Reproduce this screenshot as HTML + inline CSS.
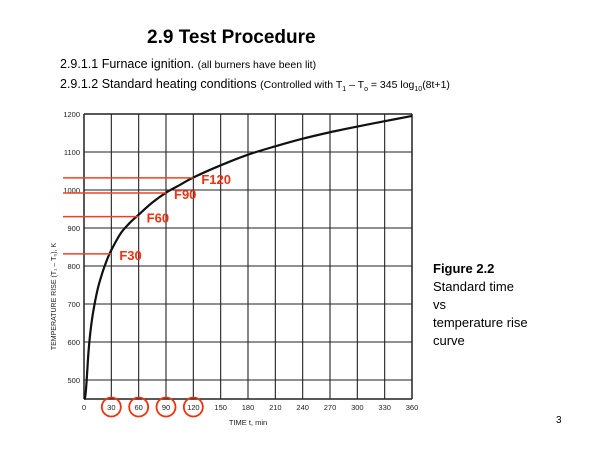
<!DOCTYPE html>
<html><head><meta charset="utf-8"><style>
body{margin:0;width:600px;height:450px;background:#fff;overflow:hidden;font-family:"Liberation Sans",sans-serif;}
svg{position:absolute;left:0;top:0}
</style></head><body>
<svg width="600" height="450" xmlns="http://www.w3.org/2000/svg" font-family="Liberation Sans, sans-serif">
<text x="147" y="43" font-size="19" font-weight="bold">2.9 Test Procedure</text>
<text x="60" y="68" font-size="12.5">2.9.1.1 Furnace ignition. <tspan font-size="10.5">(all burners have been lit)</tspan></text>
<text x="60" y="88" font-size="12.5">2.9.1.2 Standard heating conditions <tspan font-size="10.5">(Controlled with T</tspan><tspan font-size="7" dy="3">1</tspan><tspan font-size="10.5" dy="-3"> – T</tspan><tspan font-size="7" dy="3">o</tspan><tspan font-size="10.5" dy="-3"> = 345 log</tspan><tspan font-size="7" dy="3">10</tspan><tspan font-size="10.5" dy="-3">(8t+1)</tspan></text>
<g id="chart"></g>
<text x="433" y="273" font-size="13" font-weight="bold">Figure 2.2</text>
<text x="433" y="291" font-size="13">Standard time</text>
<text x="433" y="309" font-size="13">vs</text>
<text x="433" y="327" font-size="13">temperature rise</text>
<text x="433" y="345" font-size="13">curve</text>
<text x="556" y="423" font-size="10">3</text>
</svg>
<script>
const xTicks=[0,30,60,90,120,150,180,210,240,270,300,330,360];
const yTicks=[500,600,700,800,900,1000,1100,1200];
const curveT=[0,1,2,3,5,7,10,15,20,25,30,40,50,60,75,90,105,120,150,180,210,240,270,300,330,360];
const curveV=[450,452,470,502,576,626,678,739,781,815,842,885,913,935,967,993,1013,1033,1065,1093,1115,1135,1152,1167,1181,1195];
const fLabels=['F30','F60','F90','F120'];
const fTimes=[30,60,90,120];
const fValues=[832,930,992,1032];
const circled=[30,60,90,120];
const NS='http://www.w3.org/2000/svg';
const g=document.getElementById('chart');
const L=84,R=412,T=114,B=399;
const xs=t=>L+(t/360)*(R-L);
const ys=v=>B-(v-450)/750*(B-T);
function mk(tag,attrs){const e=document.createElementNS(NS,tag);for(const k in attrs)e.setAttribute(k,attrs[k]);g.appendChild(e);return e;}
xTicks.forEach(t=>{
 const l=mk('line',{x1:xs(t),x2:xs(t),y1:T,y2:B,stroke:'#222','stroke-width':t===0||t===360?1.5:1.1});
 
 
 const tx=mk('text',{x:xs(t),y:B+11,'font-size':7.5,'text-anchor':'middle',fill:'#222'});
 tx.textContent=t;
 
 
});
yTicks.forEach(v=>{
 const l=mk('line',{x1:L,x2:R,y1:ys(v),y2:ys(v),stroke:'#222','stroke-width':v===1200?1.5:1.1});
 
 
 const tx=mk('text',{x:L-4,y:ys(v)+3,'font-size':7.5,'text-anchor':'end',fill:'#222'});
 tx.textContent=v;
 
 
});
const bl=mk('line',{x1:L,x2:R,y1:B,y2:B,stroke:'#222','stroke-width':1.5});


const yt=mk('text',{x:0,y:0,'font-size':7,transform:`translate(56,${(T+B)/2+40}) rotate(-90)`,'text-anchor':'middle',fill:'#222'});
yt.textContent='TEMPERATURE RISE (T₁ – T₀), K';


const xt=mk('text',{x:248,y:425,'font-size':7.5,'text-anchor':'middle',fill:'#222'});
xt.textContent='TIME  t,  min';


const pts=curveT.map((t,i)=>[xs(t),ys(curveV[i])]);
let d='M'+pts[0][0]+','+pts[0][1];
for(let i=0;i<pts.length-1;i++){
 const p0=pts[Math.max(i-1,0)],p1=pts[i],p2=pts[i+1],p3=pts[Math.min(i+2,pts.length-1)];
 const c1=[p1[0]+(p2[0]-p0[0])/6,p1[1]+(p2[1]-p0[1])/6];
 const c2=[p2[0]-(p3[0]-p1[0])/6,p2[1]-(p3[1]-p1[1])/6];
 d+=`C${c1[0]},${c1[1]} ${c2[0]},${c2[1]} ${p2[0]},${p2[1]}`;
}
const p=mk('path',{d:d,fill:'none',stroke:'#111','stroke-width':2.2,'stroke-linejoin':'round'});


fLabels.forEach((lab,i)=>{
 const l=mk('line',{x1:63,x2:xs(fTimes[i]),y1:ys(fValues[i]),y2:ys(fValues[i]),stroke:'#f04020','stroke-width':1.5});
 
 
 const tx=mk('text',{x:xs(fTimes[i])+8,y:ys(fValues[i])+6,'font-size':13,'font-weight':'bold',fill:'#f03010'});
 tx.textContent=lab;
 
 
});
circled.forEach(t=>{
 const c=mk('circle',{cx:xs(t),cy:B+8,r:9.5,fill:'none',stroke:'#f03010','stroke-width':1.8});
 
 
});
</script>
</body></html>
